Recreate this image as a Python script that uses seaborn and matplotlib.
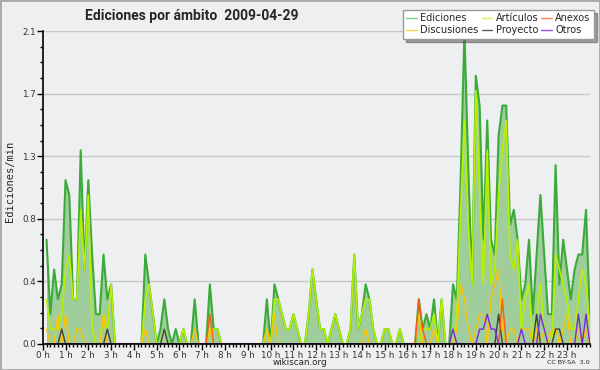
import numpy as np
import pandas as pd
import matplotlib
matplotlib.use("Agg")
import matplotlib.pyplot as plt
import seaborn as sns
from matplotlib.lines import Line2D
from matplotlib.patches import Rectangle
from matplotlib.ticker import FixedLocator, MultipleLocator, FuncFormatter

# edits per minute, 10-minute bins (bin i ends at (i+1)*10 min)
ediciones = [
    0.7, 0.2, 0.5, 0.3, 0.4, 1.1, 1.0, 0.3, 0.3, 1.3, 0.5, 1.1,
    0.6, 0.2, 0.2, 0.6, 0.3, 0.4, 0, 0, 0, 0, 0, 0,
    0, 0, 0.6, 0.4, 0.2, 0, 0.1, 0.3, 0.1, 0, 0.1, 0,
    0.1, 0, 0, 0.3, 0, 0, 0, 0.4, 0.1, 0.1, 0, 0,
    0, 0, 0, 0, 0, 0, 0, 0, 0, 0, 0.3, 0,
    0.4, 0.3, 0.2, 0.1, 0.1, 0.2, 0.1, 0, 0, 0.2, 0.5, 0.3,
    0.1, 0.1, 0, 0.1, 0.2, 0.1, 0, 0, 0.1, 0.6, 0.1, 0.2,
    0.4, 0.3, 0.1, 0, 0, 0.1, 0.1, 0, 0, 0.1, 0, 0,
    0, 0, 0.3, 0.1, 0.2, 0.1, 0.3, 0, 0.3, 0, 0, 0.4,
    0.3, 1.1, 2.1, 1.2, 0.4, 1.8, 1.6, 0.7, 1.5, 0.7, 0.6, 1.4,
    1.6, 1.6, 0.8, 0.9, 0.7, 0.3, 0.4, 0.7, 0.2, 0.6, 1.0, 0.6,
    0.2, 0.2, 1.2, 0.4, 0.7, 0.5, 0.3, 0.5, 0.6, 0.6, 0.9, 0.2,
]
articulos = [
    0.3, 0.1, 0.1, 0.1, 0.2, 0.5, 0.6, 0.3, 0.3, 0.9, 0.5, 1.0,
    0.1, 0, 0, 0.2, 0.1, 0.4, 0, 0, 0, 0, 0, 0,
    0, 0, 0.3, 0.4, 0.2, 0, 0, 0.1, 0, 0, 0, 0,
    0.1, 0, 0, 0, 0, 0, 0, 0.1, 0.1, 0.1, 0, 0,
    0, 0, 0, 0, 0, 0, 0, 0, 0, 0, 0.1, 0,
    0.3, 0.3, 0.2, 0.1, 0.1, 0.2, 0.1, 0, 0, 0.2, 0.5, 0.3,
    0.1, 0.1, 0, 0.1, 0.2, 0.1, 0, 0, 0.1, 0.6, 0.1, 0.2,
    0.3, 0.3, 0.1, 0, 0, 0.1, 0.1, 0, 0, 0.1, 0, 0,
    0, 0, 0, 0.1, 0.1, 0.1, 0.2, 0, 0.3, 0, 0, 0,
    0.2, 0.9, 1.5, 0.8, 0.4, 1.7, 1.0, 0.4, 1.3, 0.4, 0.5, 1.0,
    1.3, 1.5, 0.6, 0.5, 0.7, 0.1, 0.3, 0.4, 0, 0.2, 0.4, 0.1,
    0, 0, 0.6, 0.5, 0.4, 0.3, 0.1, 0.1, 0.3, 0.5, 0.4, 0.1,
]
# sparse series: bin -> value, every other bin is zero
discusiones = {0: 0.1, 3: 0.2, 5: 0.2, 8: 0.1, 9: 0.1, 15: 0.2, 26: 0.1, 39: 0.1,
               43: 0.1, 58: 0.1, 60: 0.2, 84: 0.1, 98: 0.2, 102: 0.1, 108: 0.1,
               109: 0.4, 110: 0.3, 111: 0.1, 113: 0.1, 114: 0.2, 115: 0.2, 117: 0.3,
               118: 0.4, 119: 0.5, 120: 0.1, 122: 0.1, 123: 0.1, 125: 0.1, 126: 0.1,
               127: 0.1, 129: 0.1, 131: 0.1, 133: 0.1, 134: 0.1, 136: 0.1, 137: 0.2,
               140: 0.1, 142: 0.1}
proyecto = {4: 0.1, 16: 0.1, 31: 0.1, 119: 0.2, 129: 0.2, 134: 0.1, 135: 0.1}
anexos = {43: 0.2, 98: 0.3, 99: 0.1, 120: 0.3}
otros = {107: 0.1, 114: 0.1, 115: 0.1, 116: 0.2, 117: 0.1, 118: 0.1, 125: 0.1,
         130: 0.2, 131: 0.1, 140: 0.2, 142: 0.2}

minutos = np.arange(10, 1441, 10)
hour_labels = [f"{h} h" for h in range(24)]
y_ticks = [0.0, 0.42, 0.84, 1.26, 1.68, 2.1]


def expand(sparse):
    vals = np.zeros(len(minutos))
    for k, v in sparse.items():
        vals[k] = v
    return vals


series = {
    "Ediciones": np.asarray(ediciones),
    "Artículos": np.asarray(articulos),
    "Discusiones": expand(discusiones),
    "Proyecto": expand(proyecto),
    "Anexos": expand(anexos),
    "Otros": expand(otros),
}
colors = {
    "Ediciones": "#3aab3a",
    "Artículos": "#b8f000",
    "Discusiones": "#ffc400",
    "Proyecto": "#404040",
    "Anexos": "#ff5a10",
    "Otros": "#7a28e0",
}
legend_colors = {
    "Ediciones": "#7fd07f",
    "Artículos": "#d4f25a",
    "Discusiones": "#ffd34a",
    "Proyecto": "#5a5a5a",
    "Anexos": "#f7874a",
    "Otros": "#9a4ff0",
}
widths = {"Ediciones": 1.5, "Artículos": 1.2}

df = pd.DataFrame({"hora": minutos / 60})
for name, vals in series.items():
    df[name] = vals

sns.set_style("ticks")
plt.rcParams["font.family"] = ["DejaVu Sans"]
bg = "#eeeff1"

fig = plt.figure(figsize=(6, 3.7), dpi=100, facecolor=bg)
ax = fig.add_axes([0.0712, 0.0703, 0.9118, 0.8457])
ax.set_facecolor(bg)

ax.fill_between(df["hora"], 0, df["Ediciones"], color="#9fcd9c", lw=0, zorder=1)
for name in series:
    sns.lineplot(data=df, x="hora", y=name, ax=ax, color=colors[name],
                 linewidth=widths.get(name, 1.0), zorder=2)

ax.set_xlim(0, 24)
ax.set_ylim(0, 2.1)
ax.xaxis.set_major_locator(FixedLocator(range(24)))
ax.set_xticklabels(hour_labels)
ax.xaxis.set_minor_locator(MultipleLocator(1 / 6))
ax.yaxis.set_major_locator(FixedLocator(y_ticks))
ax.yaxis.set_major_formatter(FuncFormatter(lambda v, p: f"{v:.1f}"))
ax.yaxis.set_minor_locator(MultipleLocator(0.105))
ax.tick_params(axis="both", which="major", length=4, width=1, color="black",
               labelsize=6.3, labelcolor="#333333", pad=1)
ax.tick_params(axis="both", which="minor", length=2.5, width=1, color="black")
ax.grid(axis="y", color="#c8c8c8", linewidth=1)
ax.grid(axis="x", visible=False)
ax.set_axisbelow(True)
for side in ("top", "right"):
    ax.spines[side].set_visible(False)
for side in ("left", "bottom"):
    ax.spines[side].set_linewidth(1.2)
    ax.spines[side].set_color("black")
    ax.spines[side].set_zorder(3)
ax.set_xlabel("")
ax.set_ylabel("")

fig.text(0.016, 0.509, "Ediciones/min", fontsize=7.5, family="DejaVu Sans Mono",
         rotation=90, ha="center", va="center")
fig.text(0.142, 0.958, "Ediciones por ámbito  2009-04-29", fontsize=10,
         fontweight="bold", family=["Roboto", "DejaVu Sans"], ha="left", va="center")
fig.text(0.5, 0.019, "wikiscan.org", fontsize=6.3, ha="center", va="center")
fig.text(0.982, 0.019, "CC BY-SA  3.0", fontsize=4.6, ha="right", va="center")

order = ["Ediciones", "Discusiones", "Artículos", "Proyecto", "Anexos", "Otros"]
handles = [Line2D([], [], color=legend_colors[n], lw=1) for n in order]
leg = fig.legend(handles, order, ncol=3, loc="upper right",
                 bbox_to_anchor=(0.99, 0.973), fontsize=7, frameon=True,
                 fancybox=False, shadow=True, edgecolor="#9a9a9a",
                 handlelength=1.1, handletextpad=0.35, columnspacing=0.3,
                 labelspacing=0.2, borderpad=0.35, borderaxespad=0)
leg.get_frame().set_linewidth(1)

fig.patches.append(Rectangle((0, 0), 1, 1, transform=fig.transFigure, fill=False,
                             edgecolor="#a8a8a8", linewidth=2))

fig.savefig("out.png", dpi=100, facecolor=bg)
